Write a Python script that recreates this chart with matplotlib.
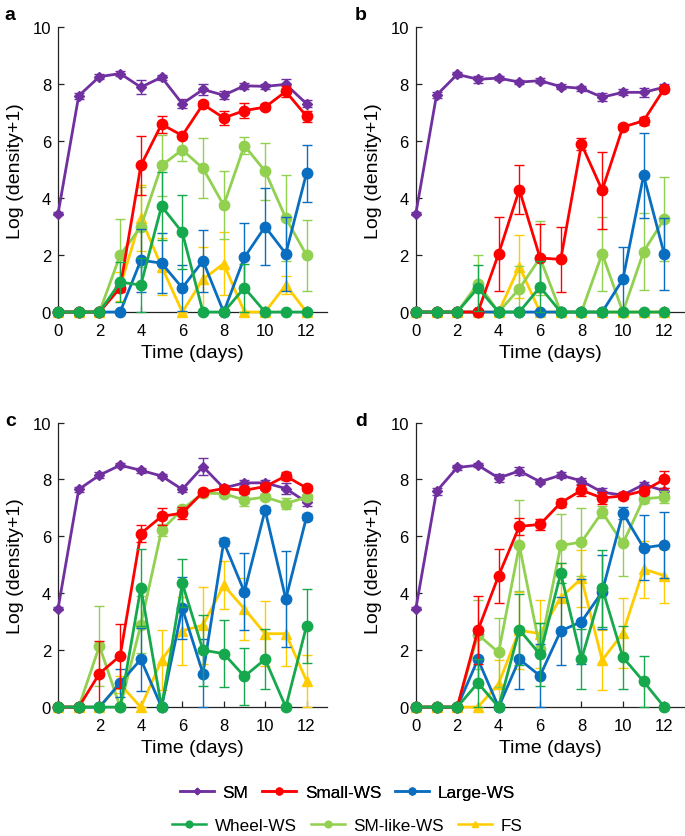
import matplotlib
matplotlib.use("Agg")
import matplotlib.pyplot as plt
from matplotlib.lines import Line2D
import numpy as np

plt.rcParams['font.family'] = ['Liberation Sans', 'DejaVu Sans']

DAYS = list(range(13))
SERIES = ["SM", "Small-WS", "Large-WS", "Wheel-WS", "SM-like-WS", "FS"]

# Panel a
A_SM = [3.45, 7.6, 8.27, 8.38, 7.9, 8.25, 7.32, 7.82, 7.62, 7.95, 7.93, 8.0, 7.32]
A_SM_E = [0.05, 0.1, 0.08, 0.08, 0.25, 0.08, 0.15, 0.2, 0.15, 0.1, 0.1, 0.2, 0.12]
A_SMALL = [0, 0, 0, 0.85, 5.15, 6.6, 6.2, 7.3, 6.82, 7.08, 7.2, 7.75, 6.88]
A_SMALL_E = [0, 0, 0, 0.15, 1.05, 0.3, 0.1, 0.1, 0.25, 0.25, 0.1, 0.2, 0.2]
A_LARGE = [0, 0, 0, 0, 1.82, 1.72, 0.85, 1.8, 0, 1.92, 3.0, 2.05, 4.88]
A_LARGE_E = [0, 0, 0, 0, 1.1, 1.05, 0.8, 1.1, 0, 1.2, 1.35, 1.3, 1.0]
A_WHEEL = [0, 0, 0, 1.05, 0.95, 3.72, 2.8, 0, 0, 0.85, 0, 0, 0]
A_WHEEL_E = [0, 0, 0, 0.7, 0.95, 1.2, 1.3, 0, 0, 0.85, 0, 0, 0]
A_SMLIKE = [0, 0, 0, 2.0, 3.0, 5.15, 5.7, 5.05, 3.75, 5.85, 4.95, 3.3, 2.0]
A_SMLIKE_E = [0, 0, 0, 1.27, 1.4, 1.07, 0.4, 1.05, 1.2, 0.3, 1.0, 1.5, 1.25]
A_FS = [0, 0, 0, 0.9, 3.3, 1.6, 0, 1.15, 1.7, 0, 0, 0.95, 0]
A_FS_E = [0, 0, 0, 0.5, 1.15, 1.0, 0, 1.15, 1.1, 0, 0, 0.3, 0]

# Panel b
B_SM = [3.45, 7.62, 8.35, 8.18, 8.22, 8.08, 8.13, 7.92, 7.86, 7.55, 7.72, 7.72, 7.9]
B_SM_E = [0.05, 0.1, 0.08, 0.12, 0.08, 0.08, 0.08, 0.08, 0.08, 0.15, 0.1, 0.15, 0.1]
B_SMALL = [0, 0, 0, 0, 2.05, 4.3, 1.9, 1.85, 5.9, 4.28, 6.5, 6.72, 7.85]
B_SMALL_E = [0, 0, 0, 0, 1.3, 0.87, 1.2, 1.15, 0.22, 1.35, 0.1, 0.15, 0.1]
B_LARGE = [0, 0, 0, 0, 0, 0, 0, 0, 0, 0, 1.15, 4.8, 2.03]
B_LARGE_E = [0, 0, 0, 0, 0, 0, 0, 0, 0, 0, 1.15, 1.5, 1.27]
B_WHEEL = [0, 0, 0, 0.85, 0, 0, 0.88, 0, 0, 0, 0, 0, 0]
B_WHEEL_E = [0, 0, 0, 0.82, 0, 0, 0.9, 0, 0, 0, 0, 0, 0]
B_SMLIKE = [0, 0, 0, 1.0, 0, 0.82, 1.9, 0, 0, 2.05, 0, 2.12, 3.28]
B_SMLIKE_E = [0, 0, 0, 1.0, 0, 0.8, 1.3, 0, 0, 1.3, 0, 1.35, 1.47]
B_FS = [0, 0, 0, 0, 0, 1.6, 0, 0, 0, 0, 0, 0, 0]
B_FS_E = [0, 0, 0, 0, 0, 1.1, 0, 0, 0, 0, 0, 0, 0]

# Panel c
C_SM = [3.45, 7.65, 8.15, 8.5, 8.32, 8.12, 7.65, 8.45, 7.7, 7.88, 7.88, 7.68, 7.2]
C_SM_E = [0.05, 0.1, 0.1, 0.08, 0.08, 0.08, 0.1, 0.3, 0.1, 0.1, 0.1, 0.2, 0.12]
C_SMALL = [0, 0, 1.18, 1.8, 6.1, 6.7, 6.82, 7.55, 7.68, 7.62, 7.75, 8.12, 7.7]
C_SMALL_E = [0, 0, 1.15, 1.12, 0.3, 0.3, 0.2, 0.1, 0.1, 0.1, 0.1, 0.15, 0.1]
C_LARGE = [0, 0, 0, 0.85, 1.68, 0, 3.48, 1.18, 5.8, 4.05, 6.92, 3.8, 6.68]
C_LARGE_E = [0, 0, 0, 0.5, 1.1, 0, 1.1, 1.2, 0.15, 1.35, 0.1, 1.7, 0.1]
C_WHEEL = [0, 0, 0, 0, 4.2, 0, 4.35, 2.0, 1.88, 1.08, 1.68, 0, 2.85]
C_WHEEL_E = [0, 0, 0, 0, 1.35, 0, 0.85, 1.25, 1.18, 1.0, 1.05, 0, 1.3]
C_SMLIKE = [0, 0, 2.15, 0, 2.9, 6.22, 6.95, 7.52, 7.5, 7.28, 7.38, 7.15, 7.38]
C_SMLIKE_E = [0, 0, 1.4, 0, 1.0, 0.2, 0.1, 0.15, 0.1, 0.2, 0.1, 0.2, 0.1]
C_FS = [0, 0, 0, 0.8, 0, 1.65, 2.68, 2.88, 4.28, 3.45, 2.58, 2.58, 0.92]
C_FS_E = [0, 0, 0, 0.3, 0, 1.05, 1.2, 1.35, 0.85, 1.1, 1.15, 1.15, 0.92]

# Panel d
D_SM = [3.45, 7.58, 8.42, 8.5, 8.05, 8.3, 7.92, 8.15, 7.95, 7.55, 7.45, 7.82, 7.6]
D_SM_E = [0.05, 0.12, 0.08, 0.08, 0.15, 0.15, 0.08, 0.1, 0.1, 0.15, 0.1, 0.1, 0.1]
D_SMALL = [0, 0, 0, 2.7, 4.62, 6.35, 6.42, 7.18, 7.62, 7.35, 7.42, 7.6, 8.0]
D_SMALL_E = [0, 0, 0, 1.2, 0.95, 0.3, 0.2, 0.15, 0.2, 0.2, 0.1, 0.1, 0.3]
D_LARGE = [0, 0, 0, 1.68, 0, 1.68, 1.1, 2.68, 3.0, 4.05, 6.82, 5.6, 5.7]
D_LARGE_E = [0, 0, 0, 0.9, 0, 1.05, 1.1, 1.2, 1.5, 1.3, 0.2, 1.15, 1.15]
D_WHEEL = [0, 0, 0, 0.85, 0, 2.72, 1.85, 4.7, 1.68, 4.18, 1.75, 0.9, 0]
D_WHEEL_E = [0, 0, 0, 0.85, 0, 1.25, 1.1, 0.35, 1.05, 1.35, 1.1, 0.9, 0]
D_SMLIKE = [0, 0, 0, 2.55, 1.92, 5.68, 2.05, 5.68, 5.8, 6.85, 5.75, 7.32, 7.38]
D_SMLIKE_E = [0, 0, 0, 1.2, 1.2, 1.6, 0.9, 1.1, 1.2, 0.2, 1.15, 0.15, 0.2]
D_FS = [0, 0, 0, 0, 0.82, 2.7, 2.58, 3.85, 4.52, 1.65, 2.6, 4.85, 4.62]
D_FS_E = [0, 0, 0, 0, 0.82, 1.35, 1.2, 1.2, 1.0, 1.05, 1.22, 1.0, 0.95]

PANELS = {
    "a": [(A_SM, A_SM_E), (A_SMALL, A_SMALL_E), (A_LARGE, A_LARGE_E),
          (A_WHEEL, A_WHEEL_E), (A_SMLIKE, A_SMLIKE_E), (A_FS, A_FS_E)],
    "b": [(B_SM, B_SM_E), (B_SMALL, B_SMALL_E), (B_LARGE, B_LARGE_E),
          (B_WHEEL, B_WHEEL_E), (B_SMLIKE, B_SMLIKE_E), (B_FS, B_FS_E)],
    "c": [(C_SM, C_SM_E), (C_SMALL, C_SMALL_E), (C_LARGE, C_LARGE_E),
          (C_WHEEL, C_WHEEL_E), (C_SMLIKE, C_SMLIKE_E), (C_FS, C_FS_E)],
    "d": [(D_SM, D_SM_E), (D_SMALL, D_SMALL_E), (D_LARGE, D_LARGE_E),
          (D_WHEEL, D_WHEEL_E), (D_SMLIKE, D_SMLIKE_E), (D_FS, D_FS_E)],
}

COLORS = ["#7030A0", "#FF0000", "#0A6EC0", "#16A84C", "#92D050", "#FFCC00"]
MARKERS = ["D", "o", "o", "o", "o", "^"]
MSIZES = [5, 7.5, 7.5, 7.5, 7.5, 7]
DRAW_ORDER = [0, 5, 4, 2, 1, 3]
ZORD = {0: 3, 5: 4, 4: 5, 2: 6, 1: 7, 3: 8}

fig = plt.figure(figsize=(6.85, 8.37), dpi=100)
W = 0.393
H = 0.340
positions = {
    "a": [0.0847, 0.626, W, H],
    "b": [0.607, 0.626, W, H],
    "c": [0.0847, 0.154, W, H],
    "d": [0.607, 0.154, W, H],
}
label_pos = {"a": (0.007, 0.982), "b": (0.518, 0.982), "c": (0.007, 0.497), "d": (0.518, 0.497)}

for key, series in PANELS.items():
    ax = fig.add_axes(positions[key])
    for i in DRAW_ORDER:
        vals, errs = series[i]
        v = np.array(vals, dtype=float)
        e = np.array(errs, dtype=float)
        lower = np.minimum(e, v)
        eb = ax.errorbar(DAYS, v, yerr=[lower, e], color=COLORS[i], marker=MARKERS[i],
                         markersize=MSIZES[i], linewidth=2.0, elinewidth=1.0,
                         capsize=3.5, capthick=1.0, zorder=ZORD[i])
        eb[0].set_clip_on(False)
        for c in eb[1]:
            c.set_clip_on(False)
        for c in eb[2]:
            c.set_clip_on(False)
    ax.set_xlim(0, 13)
    ax.set_ylim(0, 10)
    ax.set_yticks([0, 2, 4, 6, 8, 10])
    if key == "c":
        ax.set_xticks([2, 4, 6, 8, 10, 12])
    else:
        ax.set_xticks([0, 2, 4, 6, 8, 10, 12])
    ax.spines["top"].set_visible(False)
    ax.spines["right"].set_visible(False)
    for s in ("left", "bottom"):
        ax.spines[s].set_linewidth(0.9)
        ax.spines[s].set_color("#222222")
    ax.tick_params(direction="in", length=4, width=0.9, labelsize=12, color="#222222")
    ax.tick_params(axis="x", pad=8)
    ax.tick_params(axis="y", pad=5)
    ax.set_xlabel("Time (days)", fontsize=14, labelpad=4)
    ax.set_ylabel("Log (density+1)", fontsize=14, labelpad=6)
    fig.text(label_pos[key][0], label_pos[key][1], key, fontsize=14, fontweight="bold",
             ha="left", va="center")

handles = [Line2D([0], [0], color=COLORS[i], marker=MARKERS[i], markersize=MSIZES[i] * 0.65,
                  linewidth=1.8) for i in range(6)]
leg1 = fig.legend(handles[:3], SERIES[:3], loc="center", bbox_to_anchor=(0.507, 0.0525), ncol=3,
                  frameon=False, fontsize=12.3, handlelength=2.0, handletextpad=0.5,
                  columnspacing=0.8)
fig.add_artist(leg1)
leg2 = fig.legend(handles[3:], SERIES[3:], loc="center", bbox_to_anchor=(0.507, 0.012), ncol=3,
                  frameon=False, fontsize=12.3, handlelength=2.0, handletextpad=0.5,
                  columnspacing=0.8)

fig.savefig("out.png", dpi=100)
